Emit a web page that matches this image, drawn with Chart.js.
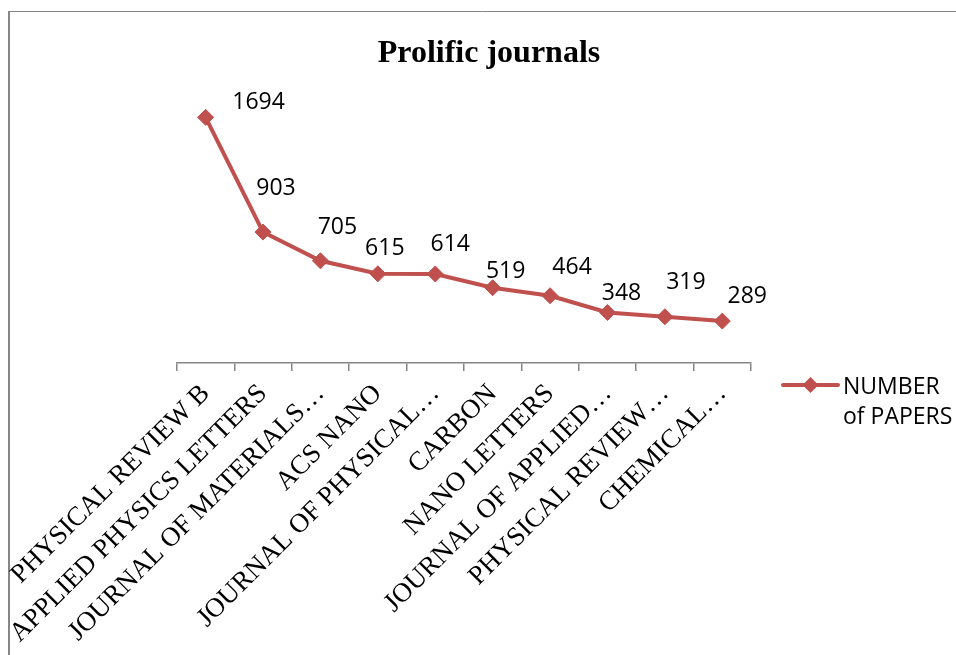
<!DOCTYPE html>
<html>
<head>
<meta charset="utf-8">
<script src="https://cdn.jsdelivr.net/npm/chart.js@4"></script>
<style>
  html, body { margin: 0; padding: 0; background: #fff; }
  #wrap { width: 956px; height: 655px; position: relative; }
</style>
</head>
<body>
<div id="wrap"><canvas id="grafico"></canvas></div>
<script>
// Datos
const journals = [
  'PHYSICAL REVIEW B',
  'APPLIED PHYSICS LETTERS',
  'JOURNAL OF MATERIALS…',
  'ACS NANO',
  'JOURNAL OF PHYSICAL…',
  'CARBON',
  'NANO LETTERS',
  'JOURNAL OF APPLIED…',
  'PHYSICAL REVIEW…',
  'CHEMICAL…'
];
const papers = [1694, 903, 705, 615, 614, 519, 464, 348, 319, 289];
const seriesName = ['NUMBER', 'of PAPERS'];
const chartTitle = 'Prolific journals';

const ROJO = '#C0504D';
const GRIS = '#868686';

// Excel coloca cada etiqueta a mano; desplazamiento respecto al punto
const labelOffsets = [[53, -15], [13, -44], [17, -33], [7, -25], [15, -30],
                      [13, -16], [22, -28], [14, -19], [21, -34], [25, -25]];

const extras = {
  id: 'extras',
  beforeDraw(chart) {
    const ctx = chart.ctx;
    ctx.save();
    ctx.fillStyle = '#fff';
    ctx.fillRect(0, 0, chart.width, chart.height);
    // borde del gráfico
    ctx.strokeStyle = GRIS;
    ctx.lineWidth = 2;
    ctx.beginPath();
    ctx.moveTo(9, chart.height + 5);
    ctx.lineTo(9, 11.5);
    ctx.stroke();
    ctx.lineWidth = 1;
    ctx.beginPath();
    ctx.moveTo(8, 11.5);
    ctx.lineTo(chart.width + 5, 11.5);
    ctx.stroke();
    ctx.restore();
  },
  afterDraw(chart) {
    const ctx = chart.ctx;
    ctx.save();
    // título
    ctx.fillStyle = '#000';
    ctx.font = 'bold 32px "Liberation Serif", "Times New Roman", serif';
    ctx.textAlign = 'center';
    ctx.textBaseline = 'alphabetic';
    ctx.fillText(chartTitle, 489, 62);

    // etiquetas de datos
    const meta = chart.getDatasetMeta(0);
    ctx.font = '23px "Open Sans", sans-serif';
    ctx.textBaseline = 'middle';
    meta.data.forEach((pt, i) => {
      const [dx, dy] = labelOffsets[i];
      ctx.fillText(String(papers[i]), pt.x + dx, pt.y + dy);
    });

    // leyenda
    const lx = 783, ly = 385;
    ctx.strokeStyle = ROJO;
    ctx.lineWidth = 4;
    ctx.lineCap = 'round';
    ctx.beginPath();
    ctx.moveTo(lx, ly);
    ctx.lineTo(lx + 55, ly);
    ctx.stroke();
    ctx.fillStyle = ROJO;
    ctx.beginPath();
    ctx.moveTo(lx + 27.5 - 8, ly);
    ctx.lineTo(lx + 27.5, ly - 8);
    ctx.lineTo(lx + 27.5 + 8, ly);
    ctx.lineTo(lx + 27.5, ly + 8);
    ctx.closePath();
    ctx.fill();
    ctx.fillStyle = '#000';
    ctx.textAlign = 'left';
    ctx.font = '23px "Open Sans", sans-serif';
    ctx.fillText(seriesName[0], 843, 387);
    ctx.fillText(seriesName[1], 843, 417);
    ctx.restore();
  }
};

new Chart(document.getElementById('grafico'), {
  type: 'line',
  data: {
    labels: journals,
    datasets: [{
      label: seriesName.join(' '),
      data: papers,
      borderColor: ROJO,
      backgroundColor: ROJO,
      borderWidth: 4,
      tension: 0,
      pointStyle: 'rectRot',
      pointRadius: 8,
      pointBorderWidth: 1,
      pointBackgroundColor: ROJO,
      pointBorderColor: ROJO
    }]
  },
  options: {
    responsive: true,
    maintainAspectRatio: false,
    animation: false,
    layout: { padding: { left: 175, right: 205, top: 102, bottom: 0 } },
    plugins: {
      legend: { display: false },
      title: { display: false },
      tooltip: { enabled: false }
    },
    scales: {
      x: {
        offset: true,
        // alto fijo del eje para que el área de datos termine en la línea del eje
        afterFit: (scale) => { scale.height = 292; },
        grid: {
          display: true,
          offset: true,
          drawOnChartArea: false,
          drawTicks: true,
          tickLength: 8,
          color: GRIS,
          lineWidth: 1.5
        },
        border: { display: true, color: GRIS, width: 1.5 },
        ticks: {
          autoSkip: false,
          minRotation: 45,
          maxRotation: 45,
          padding: 7,
          color: '#000',
          font: { family: '"Liberation Serif", "Times New Roman", serif', size: 27 }
        }
      },
      y: {
        display: false,
        min: 0,
        max: 1800
      }
    }
  },
  plugins: [extras]
});
</script>
</body>
</html>
